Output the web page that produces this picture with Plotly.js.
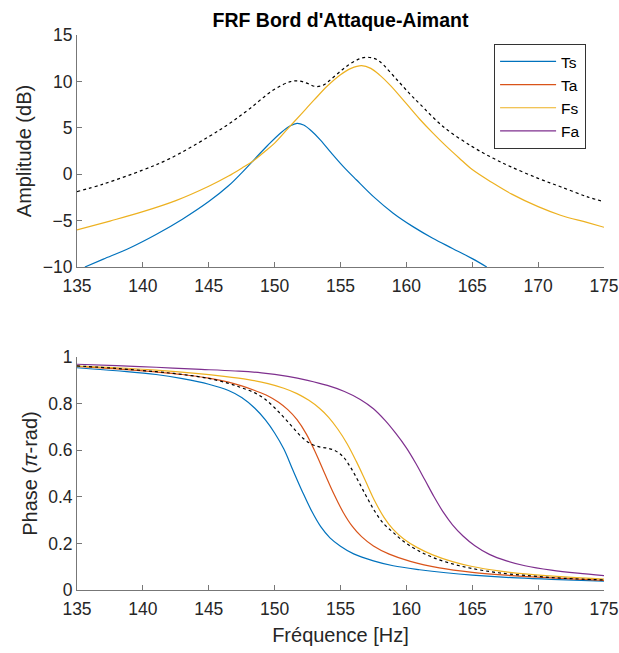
<!DOCTYPE html>
<html>
<head>
<meta charset="utf-8">
<script src="https://cdn.plot.ly/plotly-3.0.1.min.js"></script>
<style>html,body{margin:0;padding:0;background:#fff;}#chart{width:619px;height:653px;}</style>
</head>
<body>
<div id="chart"></div>
<script>
// ---- Amplitude (dB) ----
const tsAmpFreq = [135.6, 137, 139, 141, 143, 145, 146.5, 147.5, 148.5, 149.5, 150.5, 151.2, 151.7, 152.2, 152.8, 153.5, 154.3, 155.2, 156.2, 157.5, 159, 160.5, 162, 163.5, 165, 166.1];
const tsAmp     = [-10, -9.15, -7.95, -6.5, -4.85, -2.95, -1.25, 0.15, 1.65, 3.15, 4.5, 5.22, 5.48, 5.3, 4.65, 3.65, 2.3, 0.85, -0.6, -2.42, -4.2, -5.65, -6.9, -8.0, -9.1, -10];

const fsAmpFreq = [135, 137.5, 140, 142.5, 145, 146.5, 147.5, 148.4, 149.3, 150, 151, 152, 153, 154, 155, 155.8, 156.6, 157.3, 158, 158.8, 160, 161, 162, 163, 164, 165, 166.6, 168, 170, 171.7, 173.7, 175];
const fsAmp     = [-6.01, -5.05, -4.04, -2.85, -1.3, -0.2, 0.65, 1.46, 2.5, 3.35, 4.9, 6.45, 8.0, 9.5, 10.72, 11.4, 11.69, 11.4, 10.65, 9.55, 7.6, 5.95, 4.45, 3.05, 1.75, 0.5, -0.98, -2.15, -3.5, -4.42, -5.2, -5.72];

const totAmpFreq = [135, 137, 140, 142, 145, 146.6, 148.1, 149.9, 151.2, 151.9, 152.5, 153.1, 153.7, 154.3, 155, 155.6, 156.3, 156.9, 157.5, 158, 159.3, 160.3, 161, 162.8, 165, 166.6, 167.9, 170, 171.7, 173.7, 175];
const totAmp     = [-1.88, -1.06, 0.45, 1.65, 4.04, 5.48, 7.05, 9.07, 9.97, 10.04, 9.78, 9.45, 9.6, 10.25, 11.1, 11.77, 12.35, 12.6, 12.5, 12.12, 10.15, 8.6, 7.6, 5.12, 2.97, 1.71, 0.82, -0.45, -1.35, -2.42, -2.96];

// ---- Phase (pi-rad) ----
const tsPhFreq = [135, 138, 141, 143, 145, 146.5, 147.5, 148.5, 149.3, 150, 150.7, 151.4, 152.1, 152.8, 153.5, 154.2, 155, 156, 157.5, 159, 161, 163, 165, 168, 171, 175];
const tsPh     = [0.954, 0.941, 0.925, 0.907, 0.883, 0.856, 0.826, 0.780, 0.730, 0.674, 0.605, 0.513, 0.423, 0.340, 0.272, 0.224, 0.188, 0.155, 0.125, 0.104, 0.087, 0.074, 0.064, 0.053, 0.046, 0.038];

const taPhFreq = [135, 138, 141, 143, 145, 146.5, 147.5, 148.5, 149.5, 150.3, 151, 151.7, 152.4, 153.1, 153.8, 154.5, 155.2, 155.9, 156.6, 157.5, 158.7, 160.3, 162.5, 165, 168, 171, 175];
const taPh     = [0.960, 0.949, 0.936, 0.925, 0.909, 0.892, 0.876, 0.856, 0.833, 0.806, 0.774, 0.731, 0.670, 0.590, 0.500, 0.412, 0.334, 0.273, 0.229, 0.189, 0.154, 0.123, 0.095, 0.076, 0.062, 0.052, 0.041];

const fsPhFreq = [135, 138, 141, 144, 146, 148, 149.5, 150.7, 151.7, 152.6, 153.4, 154.1, 154.8, 155.5, 156.2, 156.9, 157.6, 158.3, 159, 159.8, 160.8, 162, 163.5, 165, 167, 169, 172, 175];
const fsPh     = [0.961, 0.954, 0.944, 0.930, 0.918, 0.903, 0.886, 0.866, 0.843, 0.814, 0.780, 0.741, 0.690, 0.628, 0.552, 0.468, 0.382, 0.312, 0.260, 0.219, 0.183, 0.151, 0.122, 0.101, 0.082, 0.069, 0.056, 0.047];

const faPhFreq = [135, 138, 141, 144, 147, 149, 151, 152.5, 154, 155.3, 156.5, 157.5, 158.4, 159.2, 160, 160.7, 161.4, 162.1, 162.8, 163.5, 164.3, 165.2, 166.3, 167.6, 169, 171, 173, 175];
const faPh     = [0.969, 0.963, 0.956, 0.948, 0.940, 0.932, 0.917, 0.900, 0.878, 0.852, 0.818, 0.778, 0.727, 0.672, 0.610, 0.545, 0.473, 0.400, 0.334, 0.280, 0.232, 0.190, 0.153, 0.125, 0.104, 0.085, 0.072, 0.062];

const totPhFreq = [135, 138, 141, 143, 145, 146.5, 147.5, 148.5, 149.3, 150, 150.7, 151.4, 152.1, 152.8, 153.4, 154, 154.6, 155.2, 155.8, 156.4, 157, 157.6, 158.3, 159, 159.8, 160.8, 162, 163.5, 165, 167, 169.5, 172, 175];
const totPh     = [0.962, 0.951, 0.937, 0.925, 0.908, 0.887, 0.868, 0.846, 0.818, 0.782, 0.741, 0.697, 0.654, 0.626, 0.614, 0.609, 0.598, 0.572, 0.523, 0.462, 0.398, 0.338, 0.283, 0.247, 0.208, 0.172, 0.140, 0.112, 0.092, 0.074, 0.060, 0.050, 0.043];

const seriesNames = ['Ts', 'Ta', 'Fs', 'Fa'];
const xTicks = [135, 140, 145, 150, 155, 160, 165, 170, 175];

const C = {Ts:'#0072BD', Ta:'#D95319', Fs:'#EDB120', Fa:'#7E2F8E'};
const LW = 1.2;
const sp = {shape:'spline', smoothing:1};

const traces = [
  {x: tsPhFreq, y: tsPh, name: seriesNames[0], xaxis:'x2', yaxis:'y2', mode:'lines', line:Object.assign({color:C.Ts, width:LW}, sp)},
  {x: taPhFreq, y: taPh, name: seriesNames[1], xaxis:'x2', yaxis:'y2', mode:'lines', line:Object.assign({color:C.Ta, width:LW}, sp)},
  {x: fsPhFreq, y: fsPh, name: seriesNames[2], xaxis:'x2', yaxis:'y2', mode:'lines', line:Object.assign({color:C.Fs, width:LW}, sp)},
  {x: faPhFreq, y: faPh, name: seriesNames[3], xaxis:'x2', yaxis:'y2', mode:'lines', line:Object.assign({color:C.Fa, width:LW}, sp)},
  {x: totPhFreq, y: totPh, name: 'Total', xaxis:'x2', yaxis:'y2', mode:'lines', showlegend:false, line:Object.assign({color:'#000', width:1.2, dash:'dot'}, sp)},
  {x: tsAmpFreq, y: tsAmp, name: seriesNames[0], xaxis:'x', yaxis:'y', mode:'lines', showlegend:false, line:Object.assign({color:C.Ts, width:LW}, sp)},
  {x: fsAmpFreq, y: fsAmp, name: seriesNames[2], xaxis:'x', yaxis:'y', mode:'lines', showlegend:false, line:Object.assign({color:C.Fs, width:LW}, sp)},
  {x: totAmpFreq, y: totAmp, name: 'Total', xaxis:'x', yaxis:'y', mode:'lines', showlegend:false, line:Object.assign({color:'#000', width:1.2, dash:'dot'}, sp)}
];

const FONT = '"Liberation Sans", Arial, Helvetica, sans-serif';
const axisCommon = {
  showgrid:false, zeroline:false, showline:true, linecolor:'#777', linewidth:1,
  ticks:'inside', ticklen:5, tickcolor:'#777', tickwidth:1,
  tickfont:{family:FONT, size:17.5, color:'#262626'}, mirror:false
};

const layout = {
  width:619, height:653,
  margin:{l:77, r:15, t:35, b:63},
  paper_bgcolor:'#fff', plot_bgcolor:'#fff',
  font:{family:FONT, color:'#262626'},
  showlegend:true,
  title:{text:"<b>FRF Bord d'Attaque-Aimant</b>", font:{family:FONT, size:19.5, color:'#000'},
         xref:'paper', x:0.5, xanchor:'center', yref:'container', y:0.969, yanchor:'middle'},
  xaxis: Object.assign({}, axisCommon, {domain:[0,1], range:[135,175], tickvals:xTicks, anchor:'y', ticklabelstandoff:3}),
  yaxis: Object.assign({}, axisCommon, {domain:[0.582,1], range:[-10,15], dtick:5, tick0:-10, anchor:'x',
          title:{text:'Amplitude (dB)', font:{family:FONT, size:20, color:'#262626'}, standoff:5}}),
  xaxis2: Object.assign({}, axisCommon, {domain:[0,1], range:[135,175], tickvals:xTicks, anchor:'y2', ticklabelstandoff:3,
          title:{text:'Fréquence [Hz]', font:{family:FONT, size:20, color:'#262626'}, standoff:9}}),
  yaxis2: Object.assign({}, axisCommon, {domain:[0,0.4198], range:[0,1], dtick:0.2, tick0:0, anchor:'x2',
          title:{text:'Phase (<i>π</i>-rad)', font:{family:FONT, size:20, color:'#262626'}, standoff:5}}),
  legend:{x:0.966, xanchor:'right', y:0.984, yanchor:'top', bgcolor:'#fff', bordercolor:'#333', borderwidth:1,
          font:{family:FONT, size:15.5, color:'#000'}, traceorder:'normal', itemwidth:56, tracegroupgap:0}
};

Plotly.newPlot('chart', traces, layout, {displayModeBar:false, staticPlot:true});
</script>
</body>
</html>
